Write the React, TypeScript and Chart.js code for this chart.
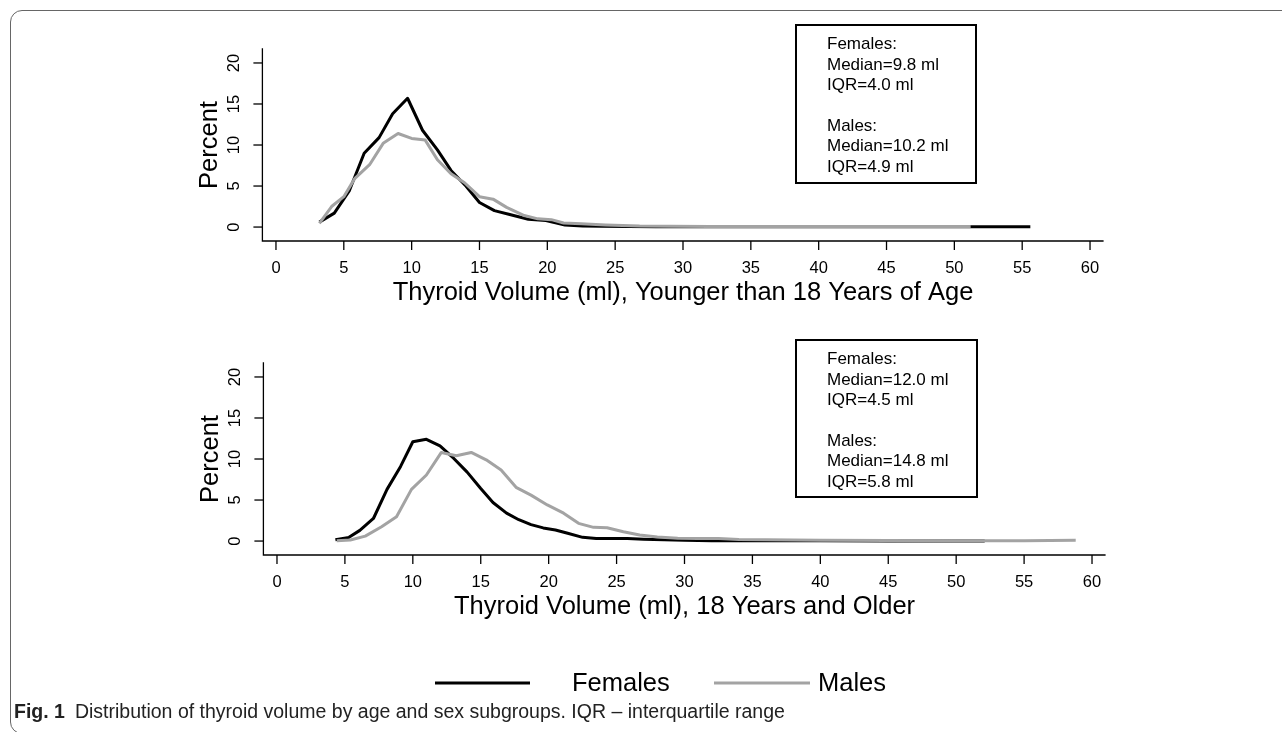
import React, { useEffect, useRef } from 'react';
import { Chart, registerables } from 'chart.js';

Chart.register(...registerables);

// ---------- data ----------
const xTicks = [0, 5, 10, 15, 20, 25, 30, 35, 40, 45, 50, 55, 60];
const yTicks = [0, 5, 10, 15, 20];
const seriesNames = ['Females', 'Males'];
const seriesColors = ['#000000', '#a3a3a3'];

// Younger than 18 years
const youngFemaleX = [3.2, 4.3, 5.4, 6.5, 7.6, 8.6, 9.7, 10.8, 11.9, 12.9, 14.0, 15.0, 16.1, 17.3, 18.6, 19.9, 21.3, 22.6, 24.0, 26, 28, 30, 33, 36, 40, 44, 48, 52, 55.6];
const youngFemaleY = [0.6, 1.7, 4.4, 9.0, 10.9, 13.8, 15.7, 11.8, 9.4, 6.9, 5.0, 3.0, 2.0, 1.5, 0.95, 0.8, 0.25, 0.12, 0.1, 0.06, 0.05, 0.05, 0.04, 0.04, 0.04, 0.04, 0.04, 0.04, 0.04];
const youngMaleX = [3.2, 4.1, 5.0, 5.8, 6.9, 7.9, 9.0, 10.0, 11.0, 11.9, 12.9, 13.9, 15.0, 16.0, 17.0, 18.3, 19.3, 20.3, 21.2, 22.5, 24.3, 26.8, 29, 32, 36, 40, 44, 48, 51.2];
const youngMaleY = [0.45, 2.5, 3.7, 5.9, 7.6, 10.2, 11.4, 10.8, 10.6, 8.2, 6.5, 5.4, 3.7, 3.4, 2.4, 1.4, 1.0, 0.9, 0.5, 0.4, 0.25, 0.12, 0.1, 0.08, 0.08, 0.08, 0.08, 0.08, 0.08];

// 18 years and older
const adultFemaleX = [4.3, 5.3, 6.1, 7.1, 8.1, 9.1, 10.0, 11.0, 12.0, 13.0, 14.0, 15.0, 15.9, 16.9, 17.8, 18.7, 19.6, 20.5, 21.4, 22.5, 23.5, 24.6, 25.8, 27, 28.5, 30, 32, 35, 40, 45, 52.1];
const adultFemaleY = [0.15, 0.45, 1.3, 2.75, 6.3, 9.1, 12.1, 12.4, 11.6, 10.1, 8.4, 6.4, 4.7, 3.4, 2.6, 2.0, 1.6, 1.35, 0.95, 0.45, 0.3, 0.3, 0.3, 0.22, 0.15, 0.1, 0.05, 0.04, 0.03, 0.02, 0.02];
const adultMaleX = [4.4, 5.4, 6.5, 7.7, 8.8, 9.9, 11.0, 12.1, 13.2, 14.3, 15.4, 16.5, 17.6, 18.7, 19.9, 21.1, 22.2, 23.3, 24.3, 25.5, 26.7, 28, 29.5, 31, 32.5, 34, 36, 40, 45, 50, 55, 58.8];
const adultMaleY = [0.04, 0.12, 0.6, 1.74, 2.96, 6.3, 8.05, 10.8, 10.4, 10.8, 9.9, 8.66, 6.55, 5.6, 4.4, 3.4, 2.16, 1.67, 1.62, 1.13, 0.73, 0.5, 0.35, 0.3, 0.3, 0.2, 0.15, 0.1, 0.06, 0.05, 0.05, 0.1];

const topTitle = 'Thyroid Volume (ml), Younger than 18 Years of Age';
const bottomTitle = 'Thyroid Volume (ml), 18 Years and Older';
const yTitle = 'Percent';
const topStats = ['Females:', 'Median=9.8 ml', 'IQR=4.0 ml', '', 'Males:', 'Median=10.2 ml', 'IQR=4.9 ml'];
const bottomStats = ['Females:', 'Median=12.0 ml', 'IQR=4.5 ml', '', 'Males:', 'Median=14.8 ml', 'IQR=5.8 ml'];
const captionBold = 'Fig. 1';
const captionText = 'Distribution of thyroid volume by age and sex subgroups. IQR \u2013 interquartile range';

// ---------- layout ----------
const W = 1282;
const H = 732;
const FONT = '"Liberation Sans", Arial, Helvetica, sans-serif';

type Panel = {
  title: string;
  stats: string[];
  box: { x: number; y: number; w: number; h: number };
  area: { left: number; top: number; right: number; bottom: number };
  legend: boolean;
  fx: number[]; fy: number[]; mx: number[]; my: number[];
};

const panels: Panel[] = [
  {
    title: topTitle, stats: topStats,
    box: { x: 796, y: 25, w: 180, h: 158 },
    area: { left: 262.4, top: 48.2, right: 1103.6, bottom: 241 },
    legend: false,
    fx: youngFemaleX, fy: youngFemaleY, mx: youngMaleX, my: youngMaleY,
  },
  {
    title: bottomTitle, stats: bottomStats,
    box: { x: 796, y: 340, w: 181, h: 157 },
    area: { left: 263.4, top: 362.2, right: 1105.6, bottom: 555 },
    legend: true,
    fx: adultFemaleX, fy: adultFemaleY, mx: adultMaleX, my: adultMaleY,
  },
];

function makePlugin(p: Panel) {
  return {
    id: 'panelDecor',
    afterDatasetsDraw(chart: any) {
      const { ctx, chartArea: ca, scales } = chart;
      const xs = scales.x;
      const ys = scales.y;
      ctx.save();
      ctx.strokeStyle = '#000';
      ctx.fillStyle = '#000';
      ctx.lineWidth = 1.3;
      // L-shaped axes
      ctx.beginPath();
      ctx.moveTo(ca.left, ca.top);
      ctx.lineTo(ca.left, ca.bottom);
      ctx.lineTo(ca.right, ca.bottom);
      ctx.stroke();
      // y ticks + rotated labels
      ctx.font = `16.5px ${FONT}`;
      yTicks.forEach((v) => {
        const py = ys.getPixelForValue(v);
        ctx.beginPath();
        ctx.moveTo(ca.left - 9, py);
        ctx.lineTo(ca.left, py);
        ctx.stroke();
        ctx.save();
        ctx.translate(ca.left - 20, py);
        ctx.rotate(-Math.PI / 2);
        ctx.textAlign = 'center';
        ctx.textBaseline = 'bottom';
        ctx.fillText(String(v), 0, 0);
        ctx.restore();
      });
      // x ticks + labels
      xTicks.forEach((v) => {
        const px = xs.getPixelForValue(v);
        ctx.beginPath();
        ctx.moveTo(px, ca.bottom);
        ctx.lineTo(px, ca.bottom + 9);
        ctx.stroke();
        ctx.textAlign = 'center';
        ctx.textBaseline = 'middle';
        ctx.fillText(String(v), px, ca.bottom + 27.5);
      });
      // titles
      ctx.font = `25.5px ${FONT}`;
      const x0 = xs.getPixelForValue(0);
      const x60 = xs.getPixelForValue(60);
      ctx.textAlign = 'center';
      ctx.textBaseline = 'middle';
      ctx.fillText(p.title, (x0 + x60) / 2, ca.bottom + 52);
      ctx.save();
      const y0 = ys.getPixelForValue(0);
      const y20 = ys.getPixelForValue(20);
      ctx.translate(ca.left - 52, (y0 + y20) / 2);
      ctx.rotate(-Math.PI / 2);
      ctx.fillText(yTitle, 0, 0);
      ctx.restore();
      // stats box
      ctx.lineWidth = 2;
      ctx.strokeRect(p.box.x, p.box.y, p.box.w, p.box.h);
      ctx.font = `17px ${FONT}`;
      ctx.textAlign = 'left';
      ctx.textBaseline = 'middle';
      p.stats.forEach((s, i) => {
        if (s) ctx.fillText(s, p.box.x + 31, p.box.y + 19.5 + i * 20.4);
      });
      // legend
      if (p.legend) {
        const ly = 683;
        const items = [
          { x1: 435, x2: 530, tx: 572 },
          { x1: 714, x2: 810, tx: 818 },
        ];
        ctx.font = `25.5px ${FONT}`;
        ctx.lineWidth = 3;
        items.forEach((it, i) => {
          ctx.strokeStyle = seriesColors[i];
          ctx.beginPath();
          ctx.moveTo(it.x1, ly);
          ctx.lineTo(it.x2, ly);
          ctx.stroke();
          ctx.fillStyle = '#000';
          ctx.textAlign = 'left';
          ctx.textBaseline = 'middle';
          ctx.fillText(seriesNames[i], it.tx, ly + 1);
        });
      }
      ctx.restore();
    },
  };
}

function PanelChart({ p }: { p: Panel }) {
  const ref = useRef<HTMLCanvasElement | null>(null);
  useEffect(() => {
    if (!ref.current) return;
    const toPts = (xs: number[], ys: number[]) => xs.map((x, i) => ({ x, y: ys[i] }));
    const chart = new Chart(ref.current, {
      type: 'line',
      data: {
        datasets: [
          {
            label: seriesNames[1],
            data: toPts(p.mx, p.my),
            borderColor: seriesColors[1],
            borderWidth: 3,
            pointRadius: 0,
            tension: 0,
            fill: false,
            order: 0,
          },
          {
            label: seriesNames[0],
            data: toPts(p.fx, p.fy),
            borderColor: seriesColors[0],
            borderWidth: 3,
            pointRadius: 0,
            tension: 0,
            fill: false,
            order: 1,
          },
        ],
      },
      options: {
        animation: false,
        responsive: false,
        maintainAspectRatio: false,
        devicePixelRatio: 1,
        layout: {
          padding: {
            left: p.area.left,
            top: p.area.top,
            right: W - p.area.right,
            bottom: H - p.area.bottom,
          },
        },
        plugins: { legend: { display: false }, tooltip: { enabled: false } },
        scales: {
          x: { type: 'linear', min: -1, max: 61, display: false },
          y: { type: 'linear', min: -1.7, max: 21.8, display: false },
        },
        elements: { line: { borderJoinStyle: 'round', borderCapStyle: 'butt' } },
      },
      plugins: [makePlugin(p)],
    } as any);
    return () => chart.destroy();
  }, [p]);
  return (
    <canvas
      ref={ref}
      width={W}
      height={H}
      style={{ position: 'absolute', left: 0, top: 0, width: W, height: H }}
    />
  );
}

export default function App() {
  return (
    <div
      style={{
        position: 'absolute',
        left: 0,
        top: 0,
        width: W,
        height: H,
        overflow: 'hidden',
        background: '#fff',
      }}
    >
      <div
        style={{
          position: 'absolute',
          left: 10,
          top: 10,
          width: 1320,
          height: 724,
          border: '1.5px solid #666',
          borderRadius: 12,
          boxSizing: 'border-box',
        }}
      />
      {panels.map((p, i) => (
        <PanelChart key={i} p={p} />
      ))}
      <div
        style={{
          position: 'absolute',
          left: 14,
          top: 699,
          fontFamily: FONT,
          fontSize: 19.5,
          color: '#222',
          whiteSpace: 'nowrap',
          lineHeight: '24px',
        }}
      >
        <b>{captionBold}</b>
        <span style={{ marginLeft: 10 }}>{captionText}</span>
      </div>
    </div>
  );
}
